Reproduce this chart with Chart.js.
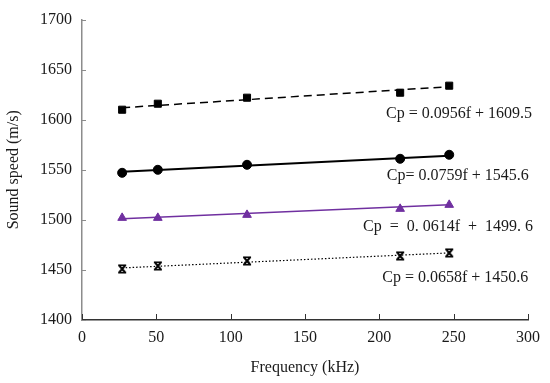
<!DOCTYPE html>
<html>
<head>
<meta charset="utf-8">
<script src="https://cdn.jsdelivr.net/npm/chart.js@4"></script>
<style>
  html, body { margin: 0; padding: 0; background: #fff; }
  #wrap { width: 550px; height: 383px; }
</style>
</head>
<body>
<div id="wrap"><canvas id="myChart"></canvas></div>
<script>
// measured frequencies (kHz)
const freq = [27, 51, 111, 214, 247];

// sound speed (m/s) for each sample
const cpSquare = [1610, 1616, 1622, 1627, 1634];
const cpCircle = [1547, 1550, 1555, 1561, 1565];
const cpTriangle = [1502, 1502, 1505, 1511, 1515];
const cpStar = [1451, 1454, 1459, 1464, 1467];

// fitted lines, end points
const fitX = [27, 247];
const fitSquare = [1612, 1633];
const fitCircle = [1548, 1564];
const fitTriangle = [1501, 1515];
const fitStar = [1452, 1467];

const eqLabels = [
  'Cp = 0.0956f + 1609.5',
  'Cp= 0.0759f + 1545.6',
  'Cp  =  0. 0614f  +  1499. 6',
  'Cp = 0.0658f + 1450.6'
];

const xTicks = [0, 50, 100, 150, 200, 250, 300];
const yTicks = [1400, 1450, 1500, 1550, 1600, 1650, 1700];

const purple = '#7030A0';
const FONT = 'Liberation Serif, Times New Roman, serif';

// x marker with short bars top and bottom
function starMarker() {
  const c = document.createElement('canvas');
  c.width = 10; c.height = 10;
  const g = c.getContext('2d');
  g.strokeStyle = '#000';
  g.lineWidth = 2;
  g.beginPath();
  g.moveTo(2, 1.5); g.lineTo(8, 8.5);
  g.moveTo(8, 1.5); g.lineTo(2, 8.5);
  g.stroke();
  g.lineWidth = 1.4;
  g.beginPath();
  g.moveTo(1, 1.2); g.lineTo(9, 1.2);
  g.moveTo(1, 8.8); g.lineTo(9, 8.8);
  g.stroke();
  return c;
}

function pts(xs, ys) {
  return xs.map((x, i) => ({ x: x, y: ys[i] }));
}

function markers(ys, style, color, r) {
  return {
    data: pts(freq, ys),
    showLine: false,
    pointStyle: style,
    pointRadius: r,
    pointBackgroundColor: color,
    pointBorderColor: color,
    pointBorderWidth: 1
  };
}

function fitLine(ys, color, width, dash) {
  return {
    data: pts(fitX, ys),
    showLine: true,
    pointRadius: 0,
    borderColor: color,
    borderWidth: width,
    borderDash: dash
  };
}

// equations and inward ticks
const extras = {
  id: 'extras',
  afterDraw(chart) {
    const ctx = chart.ctx;
    const xs = chart.scales.x, ys = chart.scales.y;
    const area = chart.chartArea;
    ctx.save();
    ctx.lineWidth = 1;
    ctx.strokeStyle = '#8c8c8c';
    yTicks.forEach(v => {
      const py = Math.round(ys.getPixelForValue(v)) + 0.5;
      ctx.beginPath();
      ctx.moveTo(area.left, py);
      ctx.lineTo(area.left + 4, py);
      ctx.stroke();
    });
    ctx.strokeStyle = '#333';
    xTicks.forEach(v => {
      const px = Math.round(xs.getPixelForValue(v)) + 0.5;
      ctx.beginPath();
      ctx.moveTo(px, area.bottom);
      ctx.lineTo(px, area.bottom - 6);
      ctx.stroke();
    });

    const spots = [[204.5, 1605.5], [205, 1544], [189, 1493], [202, 1442]];
    ctx.fillStyle = '#1a1a1a';
    ctx.font = '16px ' + FONT;
    ctx.textBaseline = 'middle';
    ctx.textAlign = 'left';
    eqLabels.forEach((t, i) => {
      ctx.fillText(t, xs.getPixelForValue(spots[i][0]), ys.getPixelForValue(spots[i][1]));
    });
    ctx.restore();
  }
};

const ctx = document.getElementById('myChart').getContext('2d');
new Chart(ctx, {
  type: 'scatter',
  data: {
    datasets: [
      fitLine(fitSquare, '#000', 1.5, [8, 5]),
      fitLine(fitCircle, '#000', 2, []),
      fitLine(fitTriangle, purple, 1.5, []),
      fitLine(fitStar, '#000', 1.2, [1.5, 2]),
      markers(cpSquare, 'rect', '#000', 5),
      markers(cpCircle, 'circle', '#000', 4.5),
      markers(cpTriangle, 'triangle', purple, 5),
      markers(cpStar, starMarker(), '#000', 5)
    ]
  },
  options: {
    responsive: true,
    maintainAspectRatio: false,
    animation: false,
    layout: { padding: { top: 14, right: 22, left: 0, bottom: 0 } },
    plugins: {
      legend: { display: false },
      tooltip: { enabled: false }
    },
    scales: {
      x: {
        type: 'linear',
        min: 0,
        max: 300,
        afterBuildTicks: s => { s.ticks = xTicks.map(v => ({ value: v })); },
        afterFit: s => { s.height = 63; },
        grid: { display: false, drawTicks: false },
        border: { display: true, color: '#333', width: 1.5 },
        ticks: { color: '#1a1a1a', padding: 8, font: { family: FONT, size: 16 }, callback: v => String(v) },
        title: {
          display: true,
          text: 'Frequency (kHz)',
          color: '#1a1a1a',
          font: { family: FONT, size: 16 },
          padding: { top: 4, bottom: 6 }
        }
      },
      y: {
        type: 'linear',
        min: 1400,
        max: 1700,
        afterBuildTicks: s => { s.ticks = yTicks.map(v => ({ value: v })); },
        afterFit: s => { s.width = 82; },
        grid: { display: false, drawTicks: false },
        border: { display: true, color: '#8c8c8c', width: 1.5 },
        ticks: { color: '#1a1a1a', padding: 10, font: { family: FONT, size: 16 }, callback: v => String(v) },
        title: {
          display: true,
          text: 'Sound speed (m/s)',
          color: '#1a1a1a',
          font: { family: FONT, size: 16 },
          padding: { top: 4, bottom: 0 }
        }
      }
    }
  },
  plugins: [extras]
});
</script>
</body>
</html>
